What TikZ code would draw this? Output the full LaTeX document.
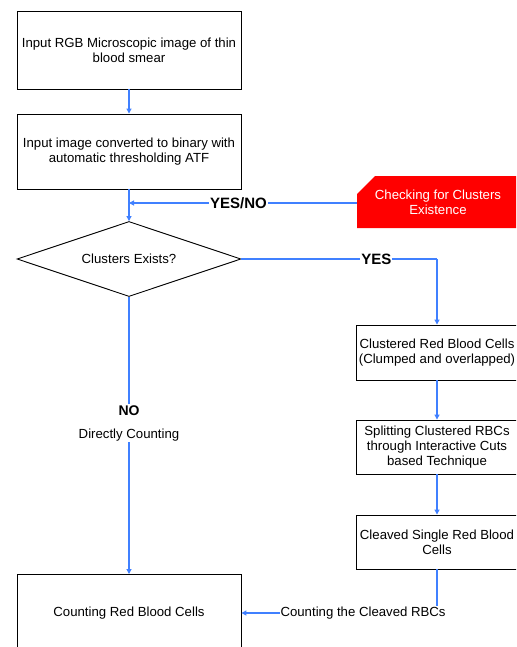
\documentclass[tikz,border=0pt]{standalone}
\usepackage{fontspec}
\setmainfont{Liberation Sans}
\usetikzlibrary{arrows.meta,shapes.geometric}
\definecolor{lineblue}{RGB}{64,128,255}
\begin{document}
\begin{tikzpicture}[x=1pt,y=-1pt,
  txt/.style={font=\fontsize{13.2}{15}\selectfont, align=center, inner sep=1pt},
  box/.style={draw=black, line width=0.9pt, txt},
  conn/.style={draw=lineblue, line width=1.1pt},
  arr/.style={conn, -{Triangle[width=5pt,length=5pt]}},
  lbl/.style={font=\fontsize{15}{17}\bfseries\selectfont, fill=white, inner sep=1pt},
  lbln/.style={txt, fill=white}]
\useasboundingbox (0,0) rectangle (516,647);
\clip (0,0) rectangle (516,647);
% left column
\node[box, minimum width=224pt, minimum height=78pt] (b1) at (129,50) {Input RGB Microscopic image of thin\\blood smear};
\node[box, minimum width=224pt, minimum height=75pt] (b2) at (129,151.5) {Input image converted to binary with\\automatic thresholding ATF};
\node[draw=black, line width=0.9pt, diamond, aspect=3, minimum width=224pt, minimum height=75pt, inner sep=0pt, txt] (d) at (129,259) {};
\node[txt] (dtxt) at (129,259) {Clusters Exists?};
\node[box, minimum width=224pt, minimum height=80pt, anchor=north] (bb) at (129,574) {};
\node[txt] (bbtxt) at (129,613) {Counting Red Blood Cells};
% red box (snipped corner)
\fill[red] (357,194) -- (375,176) -- (522,176) -- (522,228) -- (357,228) -- cycle;
\node[txt, text=white] (chk) at (438,202) {Checking for Clusters\\Existence};
\coordinate (chkw) at (357,203);
\coordinate (yn) at (129,203);
% right column
\node[box, minimum width=162pt, minimum height=55pt] (r1) at (437,352.5) {Clustered Red Blood Cells\\(Clumped and overlapped)};
\node[box, minimum width=162pt, minimum height=54pt] (r2) at (437,447) {Splitting Clustered RBCs\\through Interactive Cuts\\based Technique};
\node[box, minimum width=162pt, minimum height=54pt] (r3) at (437,542) {Cleaved Single Red Blood\\Cells};
\coordinate (c1) at (d.east -| r1);
\coordinate (c2) at (r3 |- bbtxt);
% connectors
\draw[arr] (b1) -- (b2);
\draw[arr] (b2) -- (d.north);
\draw[arr] (chkw) -- node[lbl, pos=0.52] {YES/NO} (yn);
\draw[conn] (d.east) -- node[lbl, pos=0.69] {YES} (c1);
\draw[arr] (c1) -- (r1);
\draw[arr] (r1) -- (r2);
\draw[arr] (r2) -- (r3);
\draw[arr] (d.south) -- node[lbln, pos=0.455] {\fontsize{14}{17}\bfseries\selectfont NO\\[8pt]Directly Counting} (bb);
\draw[conn] (r3) -- (c2);
\draw[arr] (c2) -- node[lbln, pos=0.378] {Counting the Cleaved RBCs} (c2 -| bb.east);
\end{tikzpicture}
\end{document}
